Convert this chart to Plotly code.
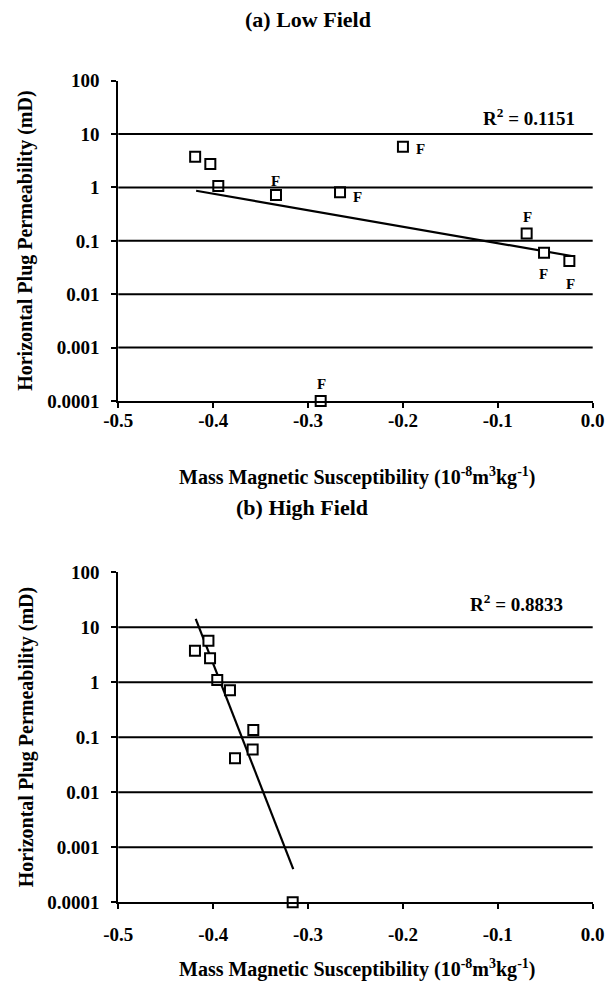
import math
import plotly.graph_objects as go

# ---- data: (a) Low Field ----
low_x = [-0.419, -0.403, -0.3946, -0.3338, -0.2663, -0.200, -0.0696, -0.0513, -0.0246, -0.2867]
low_y = [3.76, 2.74, 1.07, 0.72, 0.81, 5.8, 0.137, 0.06, 0.042, 0.0001]
low_lbl = ["", "", "", "F", "F", "F", "F", "F", "F", "F"]
low_trend_x = [-0.418, -0.022]
low_trend_y = [0.867, 0.052]
low_r2 = "R<sup>2</sup> = 0.1151"

# ---- data: (b) High Field ----
high_x = [-0.4192, -0.405, -0.4033, -0.3957, -0.3823, -0.3577, -0.3584, -0.377, -0.3162]
high_y = [3.76, 5.7, 2.73, 1.1, 0.72, 0.136, 0.06, 0.0415, 0.0001]
high_trend_x = [-0.4184, -0.3156]
high_trend_y = [14.2, 0.0004]
high_r2 = "R<sup>2</sup> = 0.8833"

x_ticks = [-0.5, -0.4, -0.3, -0.2, -0.1, 0.0]
x_tick_text = ["-0.5", "-0.4", "-0.3", "-0.2", "-0.1", "0.0"]
y_ticks = [100, 10, 1, 0.1, 0.01, 0.001, 0.0001]
y_tick_text = ["100", "10", "1", "0.1", "0.01", "0.001", "0.0001"]

titles = ["(a) Low Field", "(b) High Field"]
x_title = "Mass Magnetic Susceptibility (10<sup>-8</sup>m<sup>3</sup>kg<sup>-1</sup>)"
y_title = "Horizontal Plug Permeability (mD)"

# label offsets (pixels) for the "F" tags
f_dx = [0, 0, 0, 0, 17, 18, 1, -1, 1, 1]
f_dy = [0, 0, 0, 14, -5, -2, 17, -21, -23, 17]

FONT = "Liberation Serif"
W, H = 613, 988

fig = go.Figure()

marker = dict(symbol="square", size=10, color="white", line=dict(color="black", width=2))

fig.add_trace(go.Scatter(x=low_trend_x, y=low_trend_y, mode="lines",
                         line=dict(color="black", width=2.2), xaxis="x", yaxis="y",
                         showlegend=False))
fig.add_trace(go.Scatter(x=low_x, y=low_y, mode="markers", marker=marker,
                         xaxis="x", yaxis="y", showlegend=False, cliponaxis=False))
fig.add_trace(go.Scatter(x=high_trend_x, y=high_trend_y, mode="lines",
                         line=dict(color="black", width=2.2), xaxis="x2", yaxis="y2",
                         showlegend=False))
fig.add_trace(go.Scatter(x=high_x, y=high_y, mode="markers", marker=marker,
                         xaxis="x2", yaxis="y2", showlegend=False, cliponaxis=False))

# plot-area pixel boxes (left, right, top, bottom)
boxes = [(118.3, 592.7, 80.7, 401), (118.3, 592.7, 572.3, 902.3)]
x_standoff = [-4, 9]

def px(v):
    return v / W

def py(v):
    return 1 - v / H

axfont = dict(family=FONT, size=19, color="black", weight="bold")
shapes = []
for i, (l, r, t, b) in enumerate(boxes):
    sfx = "" if i == 0 else "2"
    fig.update_layout(**{
        "xaxis" + sfx: dict(domain=[px(l), px(r)], range=[-0.5, 0.0], tickvals=x_ticks,
                            ticktext=x_tick_text, showgrid=False, zeroline=False,
                            showline=True, linecolor="black", linewidth=2,
                            ticks="outside", ticklen=5, tickwidth=2, tickcolor="black",
                            tickfont=axfont, anchor="y" + sfx, automargin=False,
                            ticklabelstandoff=x_standoff[i]),
        "yaxis" + sfx: dict(domain=[py(b), py(t)], type="log", range=[-4, 2],
                            tickvals=y_ticks, ticktext=y_tick_text, showgrid=False,
                            zeroline=False, showline=True, linecolor="black", linewidth=2,
                            ticks="outside", ticklen=5, tickwidth=2, tickcolor="black",
                            tickfont=axfont, anchor="x" + sfx, automargin=False,
                            ticklabelstandoff=8),
    })
    for v in y_ticks[1:-1]:
        shapes.append(dict(type="line", xref="x" + sfx + " domain", yref="y" + sfx,
                           x0=0, x1=1, y0=v, y1=v, line=dict(color="black", width=2)))

anns = []
title_xy = [(308, 19), (302, 507)]
xt_y = [476, 968]

def note(text, x, y, size, **kw):
    d = dict(text="<b>" + text + "</b>", x=x, y=y, xref="paper", yref="paper",
             showarrow=False, xanchor="center", yanchor="middle",
             font=dict(family=FONT, size=size, color="black"))
    d.update(kw)
    return d

for i, (l, r, t, b) in enumerate(boxes):
    anns.append(note(titles[i], px(title_xy[i][0]), py(title_xy[i][1]), 22))
    anns.append(note(x_title, px(357), py(xt_y[i]), 20))
    anns.append(note(y_title, px(26), py((t + b) / 2), 20, textangle=-90))
anns.append(note(low_r2, px(529), py(117), 19))
anns.append(note(high_r2, px(516), py(603), 19))
for xv, yv, lab, dx, dy in zip(low_x, low_y, low_lbl, f_dx, f_dy):
    if lab:
        anns.append(dict(text="<b>" + lab + "</b>", x=xv, y=math.log10(yv), xref="x", yref="y",
                         showarrow=False, xshift=dx, yshift=dy,
                         xanchor="center", yanchor="middle",
                         font=dict(family=FONT, size=15, color="black")))

fig.update_layout(width=W, height=H, margin=dict(l=0, r=0, t=0, b=0),
                  paper_bgcolor="white", plot_bgcolor="white", annotations=anns,
                  shapes=shapes, font=dict(family=FONT, color="black"))

fig.write_html("out.html", config={"displayModeBar": False},
               post_script="document.body.style.margin='0';")
